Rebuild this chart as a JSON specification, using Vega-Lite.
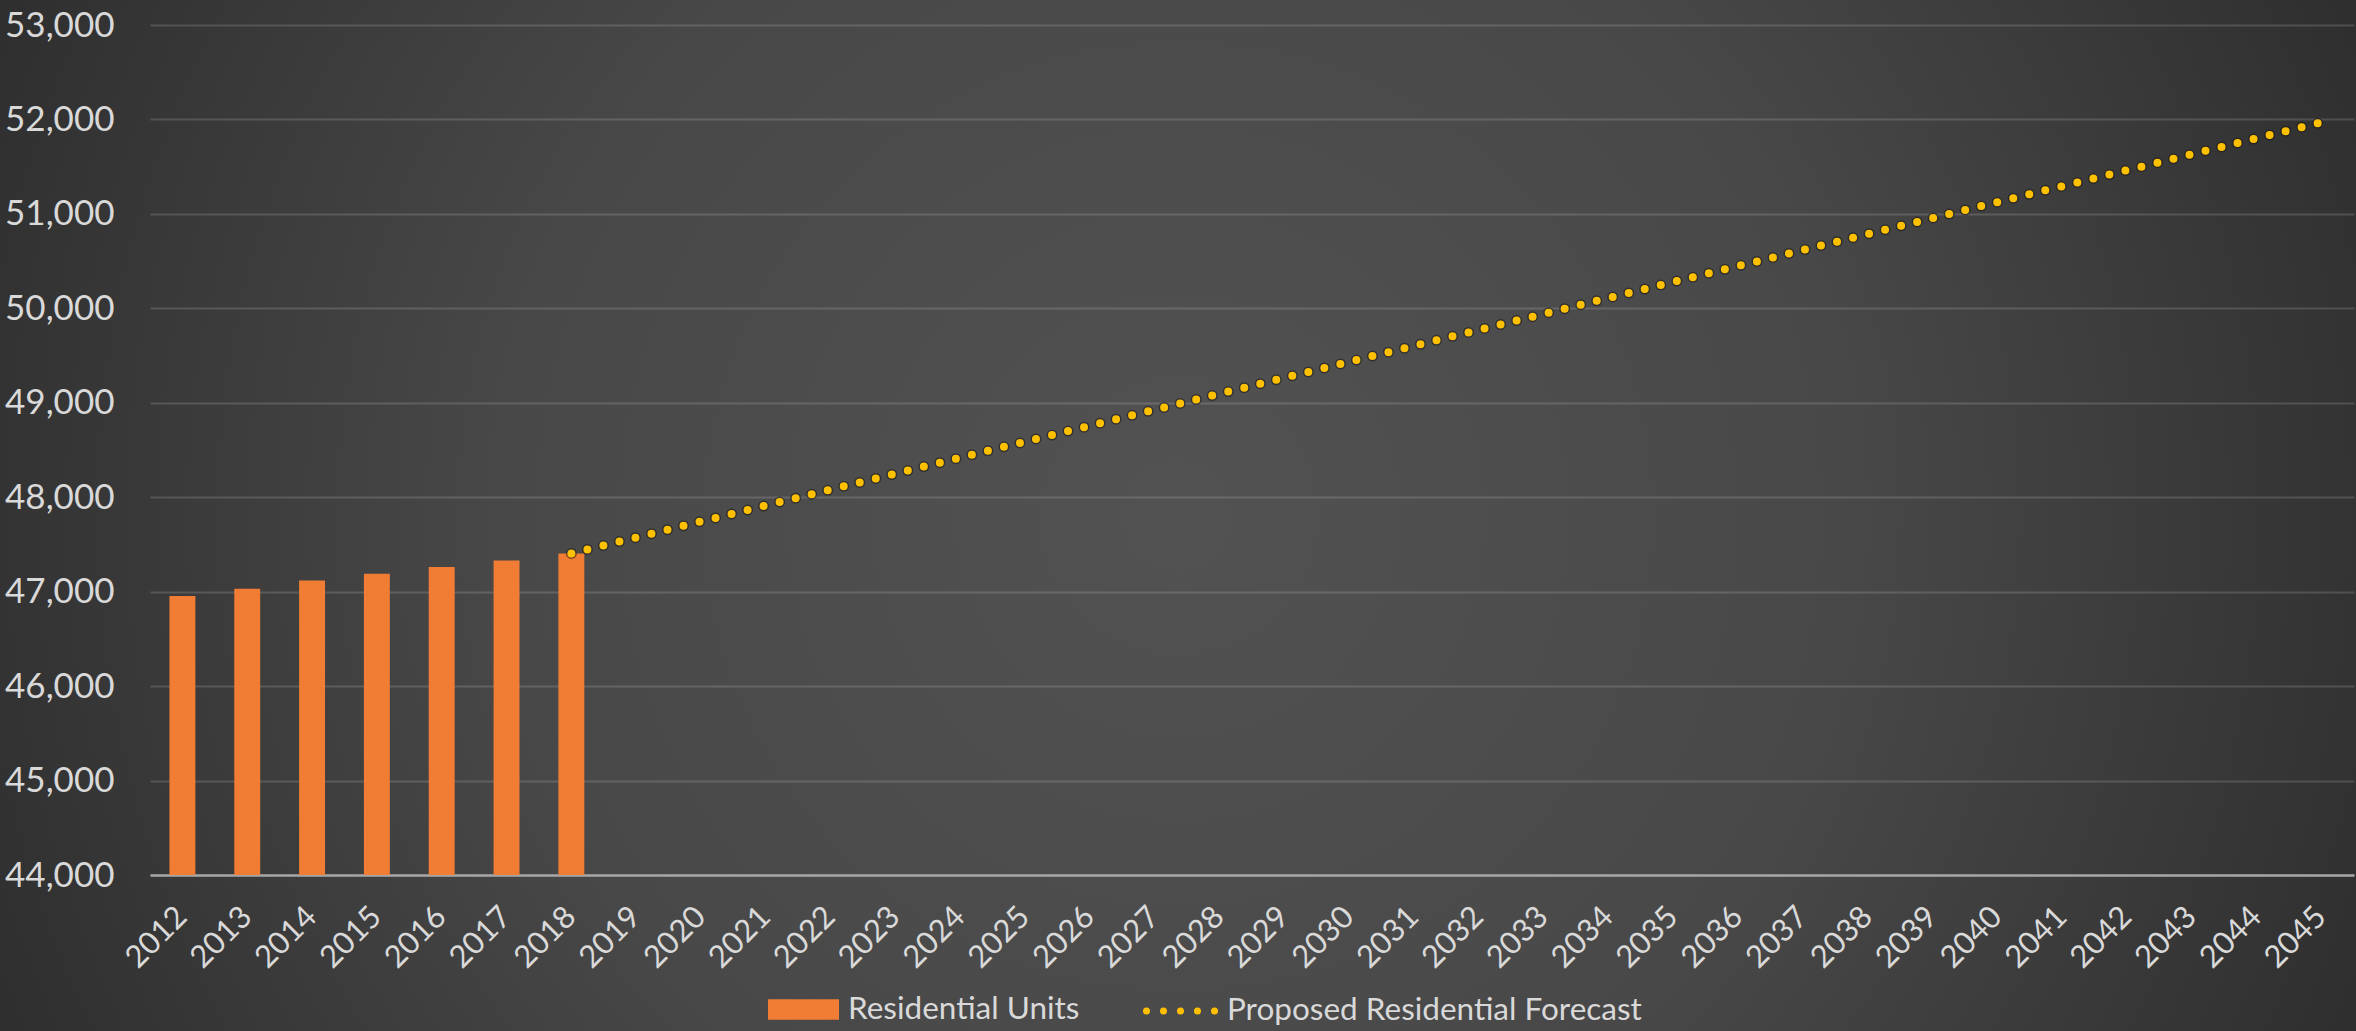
{
  "$schema": "https://vega.github.io/schema/vega-lite/v6.json",
  "width": 2356,
  "height": 1031,
  "autosize": {"type": "none"},
  "padding": 0,
  "background": "#2c2c2c",
  "config": {
    "font": "Lato",
    "view": {
      "stroke": null,
      "fill": {
        "gradient": "radial",
        "x1": 0.5, "y1": 0.5, "r1": 0,
        "x2": 0.5, "y2": 0.5, "r2": 0.75,
        "stops": [
          {"offset": 0, "color": "#525252"},
          {"offset": 0.38, "color": "#484848"},
          {"offset": 0.72, "color": "#2f2f2f"},
          {"offset": 1, "color": "#232323"}
        ]
      }
    }
  },
  "datasets": {
    "units": [
      {"year": "2012", "units": 46955},
      {"year": "2013", "units": 47030},
      {"year": "2014", "units": 47118},
      {"year": "2015", "units": 47190},
      {"year": "2016", "units": 47262},
      {"year": "2017", "units": 47330},
      {"year": "2018", "units": 47405}
    ],
    "forecast": [
      {"year": "2018", "forecast": 47405},
      {"year": "2045", "forecast": 51970}
    ]
  },
  "encoding": {
    "x": {
      "field": "year",
      "type": "ordinal",
      "scale": {
        "type": "band",
        "domain": ["2012","2013","2014","2015","2016","2017","2018","2019","2020","2021","2022","2023","2024","2025","2026","2027","2028","2029","2030","2031","2032","2033","2034","2035","2036","2037","2038","2039","2040","2041","2042","2043","2044","2045"],
        "range": [150, 2354],
        "paddingInner": 0.6,
        "paddingOuter": 0.3
      },
      "axis": {
        "title": null,
        "offset": -156,
        "labelAngle": -45,
        "labelAlign": "right",
        "labelBaseline": "middle",
        "labelPadding": 37,
        "labelFontSize": 31,
        "labelColor": "#d9d9d9",
        "labelOverlap": false,
        "ticks": false,
        "domain": true,
        "domainColor": "#a6a6a6",
        "domainWidth": 2.5,
        "grid": false
      }
    }
  },
  "layer": [
    {
      "data": {"name": "units"},
      "mark": {
        "type": "bar",
        "color": {
          "gradient": "linear",
          "x1": 0, "y1": 0, "x2": 0, "y2": 1,
          "stops": [
            {"offset": 0, "color": "#F2935F"},
            {"offset": 0.5, "color": "#F2802F"},
            {"offset": 1, "color": "#E46C19"}
          ]
        }
      },
      "encoding": {
        "y": {
          "field": "units",
          "type": "quantitative",
          "scale": {"domain": [44000, 53000], "range": [875, 25], "nice": false, "zero": false},
          "axis": {
            "title": null,
            "offset": -150,
            "values": [44000, 45000, 46000, 47000, 48000, 49000, 50000, 51000, 52000, 53000],
            "format": ",.0f",
            "labelFontSize": 35,
            "labelColor": "#d9d9d9",
            "labelPadding": 36,
            "ticks": false,
            "domain": false,
            "grid": true,
            "gridColor": "#ffffff",
            "gridOpacity": 0.15,
            "gridWidth": 2
          }
        },
        "y2": {"datum": 44000},
        "fill": {
          "datum": "Residential Units",
          "type": "nominal",
          "scale": {"domain": ["Residential Units"], "range": ["#F07D33"]},
          "legend": {
            "title": null,
            "orient": "none",
            "legendX": 768,
            "legendY": 974,
            "direction": "horizontal",
            "padding": 0,
            "symbolType": "M-1,-0.2857H1V0.2857H-1Z",
            "symbolSize": 5041,
            "symbolStrokeWidth": 0,
            "labelFontSize": 31.5,
            "labelColor": "#d9d9d9",
            "labelOffset": 9,
            "labelLimit": 1000
          }
        }
      }
    },
    {
      "data": {"name": "forecast"},
      "mark": {"type": "line", "color": "#1a1a1a", "opacity": 0.55, "strokeWidth": 11, "strokeDash": [0, 16.5], "strokeCap": "round"},
      "encoding": {
        "y": {"field": "forecast", "type": "quantitative"}
      }
    },
    {
      "data": {"name": "forecast"},
      "mark": {"type": "line", "strokeWidth": 8, "strokeDash": [0, 16.5], "strokeCap": "round"},
      "encoding": {
        "y": {"field": "forecast", "type": "quantitative"},
        "stroke": {
          "datum": "Proposed Residential Forecast",
          "type": "nominal",
          "scale": {"domain": ["Proposed Residential Forecast"], "range": ["#FFC000"]},
          "legend": {
            "title": null,
            "orient": "none",
            "legendX": 1143,
            "legendY": 973,
            "direction": "horizontal",
            "padding": 0,
            "symbolType": "stroke",
            "symbolSize": 4761,
            "symbolStrokeWidth": 7,
            "symbolDash": [0, 17],
            "labelFontSize": 31.5,
            "labelColor": "#d9d9d9",
            "labelOffset": 8,
            "labelLimit": 1000,
            "encode": {"symbols": {"update": {"strokeCap": {"value": "round"}}}}
          }
        }
      }
    }
  ]
}
